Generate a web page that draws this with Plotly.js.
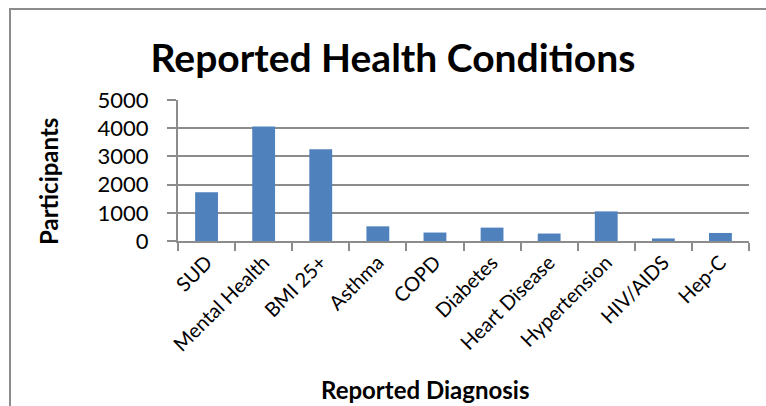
<!DOCTYPE html>
<html>
<head>
<meta charset="utf-8">
<script src="https://cdn.plot.ly/plotly-3.0.1.min.js"></script>
<style>
  html, body { margin: 0; padding: 0; background: #ffffff; }
  #wrap { position: relative; width: 766px; height: 406px; overflow: hidden; }
  #chart { position: absolute; left: 0; top: 0; width: 766px; height: 406px; }
  #frame { position: absolute; left: 9px; top: 8px; width: 800px; height: 500px;
           border-left: 2px solid #8c8c8c; border-top: 2px solid #8c8c8c; pointer-events: none; }
</style>
</head>
<body>
<div id="wrap">
  <div id="chart"></div>
  <div id="frame"></div>
</div>
<script>
const categories = ["SUD", "Mental Health", "BMI 25+", "Asthma", "COPD", "Diabetes",
                    "Heart Disease", "Hypertension", "HIV/AIDS", "Hep-C"];
const participants = [1730, 4060, 3250, 520, 300, 475, 265, 1050, 90, 285];
const yTickValues = [0, 1000, 2000, 3000, 4000, 5000];
const yTickLabels = ["0", "1000", "2000", "3000", "4000", "5000"];

const FONT = "Lato, 'Open Sans', sans-serif";
const GRID = "#8c8c8c";

const trace = {
  type: "bar",
  x: categories,
  y: participants,
  marker: { color: "#4f81bd", line: { width: 0 } },
  hoverinfo: "x+y"
};

const layout = {
  width: 766,
  height: 406,
  paper_bgcolor: "#ffffff",
  plot_bgcolor: "#ffffff",
  margin: { l: 178, r: 17, t: 100, b: 165 },
  bargap: 0.6,
  showlegend: false,
  font: { family: FONT, color: "#000000" },
  title: {
    text: "<b>Reported Health Conditions</b>",
    font: { family: FONT, size: 39, color: "#000000" },
    xref: "container", x: 0.513, xanchor: "center",
    yref: "container", y: 0.857, yanchor: "middle"
  },
  xaxis: {
    type: "category",
    tickangle: -45,
    tickfont: { family: FONT, size: 20, color: "#000000" },
    showline: true, linecolor: GRID, linewidth: 2,
    ticks: "outside", tickson: "boundaries", ticklen: 8, tickcolor: GRID, tickwidth: 2,
    showgrid: false,
    fixedrange: true
  },
  yaxis: {
    range: [0, 5000],
    tickvals: yTickValues,
    ticktext: yTickLabels,
    tickfont: { family: FONT, size: 22, color: "#000000" },
    showline: true, linecolor: GRID, linewidth: 2,
    ticks: "outside", ticklen: 9, tickcolor: GRID, tickwidth: 2,
    ticklabelstandoff: 14,
    showgrid: true, gridcolor: GRID, gridwidth: 2,
    zeroline: false,
    fixedrange: true
  },
  annotations: [{
    text: "<b>Reported Diagnosis</b>",
    font: { family: FONT, size: 24, color: "#000000" },
    xref: "paper", yref: "paper",
    x: (425 - 178) / 571, y: -(389 - 241) / 141,
    xanchor: "center", yanchor: "middle",
    showarrow: false
  }, {
    text: "<b>Participants</b>",
    font: { family: FONT, size: 24, color: "#000000" },
    textangle: -90,
    xref: "paper", yref: "paper",
    x: -(178 - 48) / 571, y: (241 - 182) / 141,
    xanchor: "center", yanchor: "middle",
    showarrow: false
  }]
};

Plotly.newPlot("chart", [trace], layout, { displayModeBar: false, staticPlot: false });
</script>
</body>
</html>
